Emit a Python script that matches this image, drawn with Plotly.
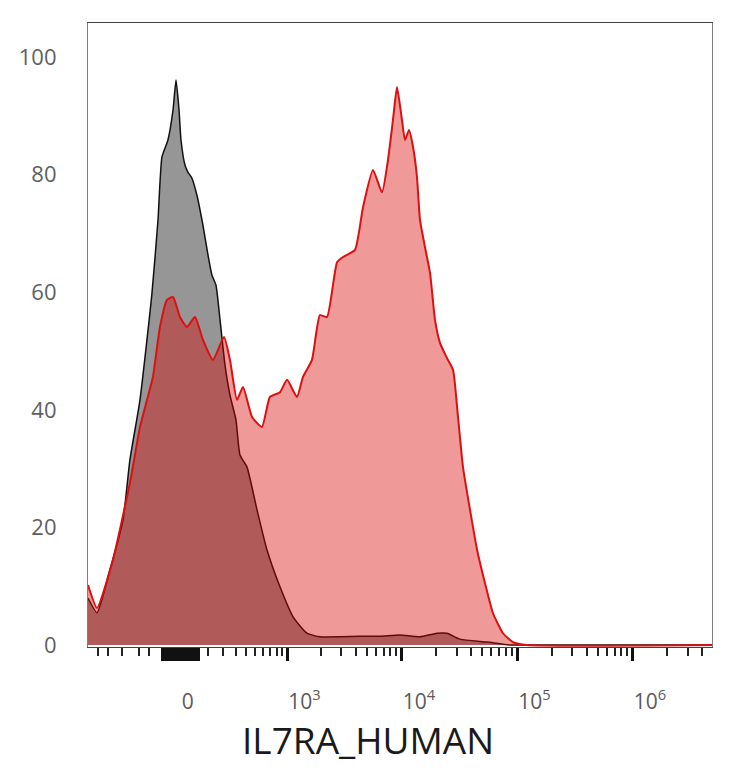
import numpy as np
import plotly.graph_objects as go

# ---- data (x in display units of the biexponential axis: 10^k -> k) ----
iso_x = [1.286, 1.364, 1.476, 1.589, 1.649, 1.736, 1.840, 1.892, 1.926, 1.978,
         2.022, 2.048, 2.074, 2.091, 2.126, 2.152, 2.186, 2.229, 2.281, 2.325,
         2.359, 2.394, 2.429, 2.472, 2.515, 2.567, 2.602, 2.662, 2.749, 2.835,
         2.948, 3.061, 3.182, 3.294, 3.468, 3.641, 3.814, 3.987, 4.160, 4.307,
         4.394, 4.506, 4.740, 4.939, 5.113, 6.688]
iso_y = [8.0, 5.5, 12.8, 21.3, 31.5, 41.7, 59.9, 72.3, 83.0, 85.9,
         91.0, 96.1, 91.0, 85.9, 81.6, 80.4, 79.4, 76.5, 71.4, 66.3,
         62.9, 61.2, 55.3, 47.6, 42.5, 38.3, 32.3, 30.3, 23.0, 16.2,
         9.9, 4.8, 2.0, 1.4, 1.4, 1.5, 1.5, 1.7, 1.4, 2.0,
         2.0, 1.0, 0.5, 0.0, 0.0, 0.0]

stain_x = [1.286, 1.364, 1.502, 1.649, 1.736, 1.797, 1.848, 1.909, 1.970, 2.022,
           2.082, 2.143, 2.212, 2.281, 2.368, 2.463, 2.515, 2.576, 2.628, 2.706,
           2.792, 2.861, 2.948, 3.009, 3.095, 3.147, 3.225, 3.294, 3.355, 3.442,
           3.494, 3.597, 3.667, 3.753, 3.831, 3.883, 3.926, 3.961, 4.004, 4.030,
           4.065, 4.100, 4.134, 4.160, 4.203, 4.247, 4.290, 4.333, 4.394, 4.446,
           4.489, 4.532, 4.593, 4.654, 4.723, 4.792, 4.879, 4.965, 5.087, 6.688]
stain_y = [10.2, 6.3, 14.5, 27.6, 37.1, 41.7, 45.6, 54.1, 58.7, 59.2,
           55.8, 54.1, 55.8, 51.9, 48.5, 52.4, 48.5, 41.7, 43.9, 38.8,
           37.1, 42.2, 43.0, 45.1, 42.2, 45.6, 48.5, 56.1, 55.8, 65.1,
           66.0, 67.2, 74.5, 80.8, 77.0, 82.5, 89.3, 94.9, 89.3, 85.9,
           87.6, 84.7, 79.6, 72.3, 67.7, 63.3, 55.3, 51.4, 48.8, 46.8,
           38.8, 30.3, 23.0, 16.2, 10.5, 5.4, 2.0, 0.5, 0.0, 0.0]

y_ticks = [0, 20, 40, 60, 80, 100]
x_label_vals = [0, 1e3, 1e4, 1e5, 1e6]
x_label_text = ["0", "10<sup>3</sup>", "10<sup>4</sup>", "10<sup>5</sup>", "10<sup>6</sup>"]
x_title = "IL7RA_HUMAN"
minor_neg = [-1000, -800, -600, -400, -300]
minor_pos = [100, 200, 300, 400, 500, 600, 700, 800, 900]
dense_zero = list(range(-200, 50, 10))
decades = [1e3, 1e4, 1e5, 1e6]

# biexponential-like display transform (intensity -> display units)
C = 310.0
def f(v):
    v = np.asarray(v, dtype=float)
    return np.arcsinh(v / C) / np.log(10) + np.log10(C / 2)

minor_vals = list(f(minor_neg))
for k in [3, 4, 5]:
    minor_vals += list(f([m * 10 ** k for m in range(2, 10)]))
minor_vals += list(f(minor_pos))
minor_vals += list(f([2e6, 3e6, 4e6]))

X_RANGE = [1.286, 6.688]
Y_RANGE = [-0.34, 105.8]

fig = go.Figure()
fig.add_trace(go.Scatter(x=iso_x, y=iso_y, mode="lines", fill="tozeroy",
                         fillcolor="#969696",
                         line=dict(color="#111111", width=1.5, shape="spline", smoothing=0.5),
                         hoverinfo="skip", showlegend=False))
fig.add_trace(go.Scatter(x=stain_x, y=stain_y, mode="lines", fill="tozeroy",
                         fillcolor="rgba(215,0,0,0.4)",
                         line=dict(color="#dd1010", width=2, shape="spline", smoothing=0.5),
                         hoverinfo="skip", showlegend=False))
# invisible trace to carry the major-tick axis
fig.add_trace(go.Scatter(x=X_RANGE, y=[None, None], xaxis="x2", mode="lines",
                         hoverinfo="skip", showlegend=False))

label_pos = [float(f(v)) + (0.0 if v == 0 else 0.15) for v in x_label_vals]
label_pos[0] = float(f(0)) - 0.04

fig.update_layout(
    width=734, height=768,
    margin=dict(l=88, r=22, t=23, b=121),
    paper_bgcolor="white", plot_bgcolor="white",
    font=dict(family="Open Sans", color="#555555"),
    xaxis=dict(range=X_RANGE, showgrid=False, zeroline=False,
               showline=True, linecolor="#444444", linewidth=1.2, mirror=True,
               tickmode="array", tickvals=label_pos, ticktext=x_label_text,
               ticks="outside", ticklen=36, tickcolor="rgba(0,0,0,0)",
               tickfont=dict(size=21, color="#5a5a5a"),
               minor=dict(tickmode="array", tickvals=minor_vals, ticks="outside",
                          ticklen=8, tickwidth=1.5, tickcolor="#222222")),
    xaxis2=dict(range=X_RANGE, overlaying="x", anchor="y", side="bottom",
                showgrid=False, zeroline=False, showline=False,
                showticklabels=False, tickmode="array",
                tickvals=[float(v) for v in f(decades)] + [float(v) for v in f(dense_zero)],
                ticks="outside", ticklen=13, tickwidth=3, tickcolor="#111111"),
    yaxis=dict(range=Y_RANGE, showgrid=False, zeroline=False,
               showline=True, linecolor="#808080", linewidth=1.2, mirror=True,
               tickmode="array", tickvals=y_ticks,
               ticks="outside", ticklen=26, tickcolor="rgba(0,0,0,0)",
               tickfont=dict(size=22, color="#5f5f5f")),
    annotations=[dict(text=x_title, xref="paper", yref="paper",
                      x=(368 - 88) / 624, y=-(767 - 647) / 624,
                      xanchor="center", yanchor="bottom",
                      showarrow=False, font=dict(size=37, color="#1a1a1a"))],
)

fig.write_html("out.html")
